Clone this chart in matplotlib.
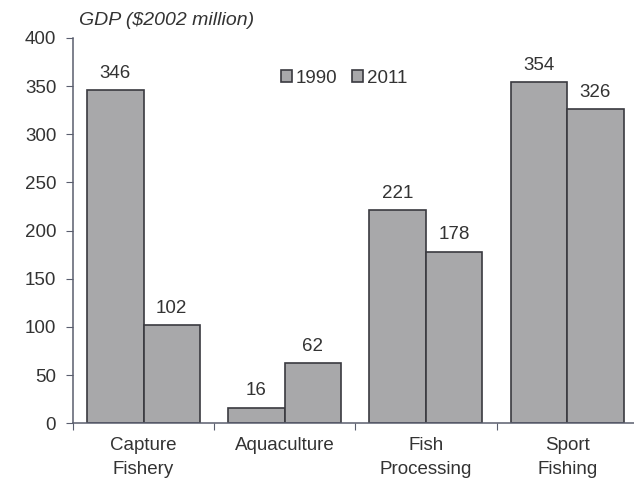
import matplotlib.pyplot as plt
import numpy as np

# data
categories = ['Capture\nFishery', 'Aquaculture', 'Fish\nProcessing', 'Sport\nFishing']
gdp_1990 = [346, 16, 221, 354]
gdp_2011 = [102, 62, 178, 326]
series_names = ['1990', '2011']

BAR_GRAY = '#a8a8aa'
EDGE = '#3a3a40'
TEXT = '#333333'
AXIS = '#5a5e6e'
FS = 13.5

plt.rcParams['font.family'] = ['Liberation Sans', 'DejaVu Sans']

fig = plt.figure(figsize=(6.34, 4.87), dpi=100)
ax = fig.add_axes([0.115, 0.131, 0.891, 0.791])

x = np.arange(len(categories))
w = 0.4
b1 = ax.bar(x - w / 2, gdp_1990, w, color=BAR_GRAY, edgecolor=EDGE, linewidth=1.2, label=series_names[0])
b2 = ax.bar(x + w / 2, gdp_2011, w, color=BAR_GRAY, edgecolor=EDGE, linewidth=1.2, label=series_names[1])

for bars, vals in [(b1, gdp_1990), (b2, gdp_2011)]:
    for rect, v in zip(bars, vals):
        ax.annotate(str(v), (rect.get_x() + rect.get_width() / 2, v),
                    xytext=(0, 6), textcoords='offset points',
                    ha='center', va='bottom', fontsize=FS, color=TEXT)

ax.set_xlim(-0.5, len(categories) - 0.5)
ax.set_ylim(0, 400)
ax.set_yticks(range(0, 401, 50))

# boundary ticks without labels, labels centred under each group
ax.set_xticks(np.arange(len(categories) + 1) - 0.5)
ax.set_xticklabels([])
ax.set_xticks(x, minor=True)
ax.set_xticklabels(categories, minor=True, fontsize=FS, color=TEXT, linespacing=1.55)
ax.tick_params(axis='x', which='minor', length=0, pad=10)
ax.tick_params(axis='x', which='major', length=5, color=AXIS, direction='out')
ax.tick_params(axis='y', length=5, color=AXIS, labelsize=FS, labelcolor=TEXT, pad=7)

for s in ['top', 'right']:
    ax.spines[s].set_visible(False)
for s in ['left', 'bottom']:
    ax.spines[s].set_color(AXIS)
    ax.spines[s].set_linewidth(1.1)

ax.legend(loc='center', bbox_to_anchor=(0.48, 0.895), ncol=2, frameon=False,
          fontsize=FS, handlelength=0.6, handleheight=0.6, handletextpad=0.2,
          columnspacing=0.8, labelcolor=TEXT)

fig.text(0.125, 0.958, 'GDP ($2002 million)', style='italic', fontsize=14,
         color=TEXT, ha='left', va='center')

fig.savefig('out.png', dpi=100)
